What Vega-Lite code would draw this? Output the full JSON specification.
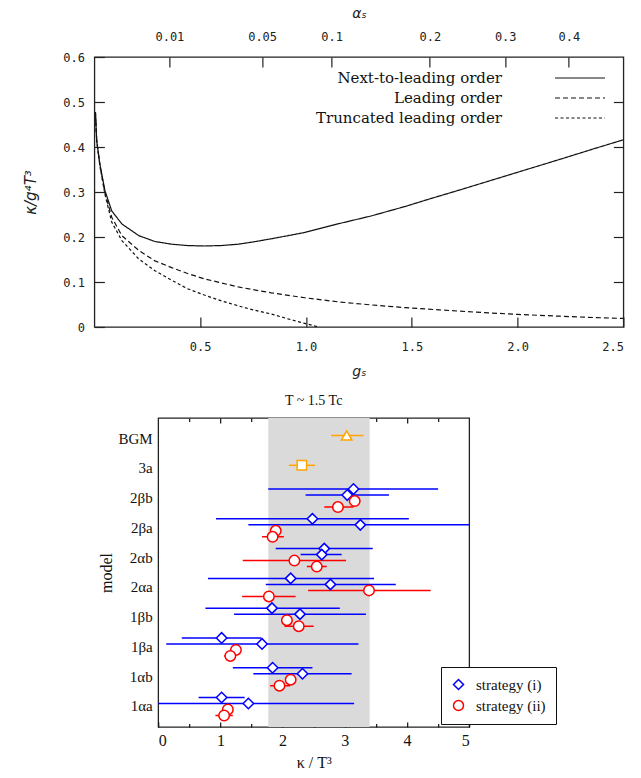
{
  "$schema": "https://vega.github.io/schema/vega-lite/v6.json",
  "background": "white",
  "padding": {"left": 23, "top": 5, "right": 5, "bottom": 5},
  "center": true,
  "spacing": 14,
  "config": {
    "view": {"stroke": "#222", "strokeWidth": 1.3},
    "axis": {"grid": false, "domain": false},
    "legend": {"labelFont": "Liberation Serif"}
  },
  "datasets": {
    "curves": [
      {"g": 0.005, "v": 0.477, "order": "Next-to-leading order"},
      {"g": 0.011, "v": 0.414, "order": "Next-to-leading order"},
      {"g": 0.026, "v": 0.362, "order": "Next-to-leading order"},
      {"g": 0.05, "v": 0.303, "order": "Next-to-leading order"},
      {"g": 0.082, "v": 0.258, "order": "Next-to-leading order"},
      {"g": 0.13, "v": 0.229, "order": "Next-to-leading order"},
      {"g": 0.21, "v": 0.203, "order": "Next-to-leading order"},
      {"g": 0.286, "v": 0.19, "order": "Next-to-leading order"},
      {"g": 0.365, "v": 0.184, "order": "Next-to-leading order"},
      {"g": 0.44, "v": 0.181, "order": "Next-to-leading order"},
      {"g": 0.52, "v": 0.18, "order": "Next-to-leading order"},
      {"g": 0.6, "v": 0.181, "order": "Next-to-leading order"},
      {"g": 0.68, "v": 0.184, "order": "Next-to-leading order"},
      {"g": 0.75, "v": 0.189, "order": "Next-to-leading order"},
      {"g": 0.836, "v": 0.196, "order": "Next-to-leading order"},
      {"g": 0.994, "v": 0.21, "order": "Next-to-leading order"},
      {"g": 1.15, "v": 0.229, "order": "Next-to-leading order"},
      {"g": 1.31, "v": 0.247, "order": "Next-to-leading order"},
      {"g": 1.47, "v": 0.268, "order": "Next-to-leading order"},
      {"g": 1.58, "v": 0.284, "order": "Next-to-leading order"},
      {"g": 1.73, "v": 0.305, "order": "Next-to-leading order"},
      {"g": 1.89, "v": 0.328, "order": "Next-to-leading order"},
      {"g": 2.05, "v": 0.351, "order": "Next-to-leading order"},
      {"g": 2.21, "v": 0.374, "order": "Next-to-leading order"},
      {"g": 2.36, "v": 0.396, "order": "Next-to-leading order"},
      {"g": 2.5, "v": 0.416, "order": "Next-to-leading order"},
      {"g": 0.005, "v": 0.477, "order": "Leading order"},
      {"g": 0.011, "v": 0.414, "order": "Leading order"},
      {"g": 0.026, "v": 0.36, "order": "Leading order"},
      {"g": 0.05, "v": 0.298, "order": "Leading order"},
      {"g": 0.082, "v": 0.244, "order": "Leading order"},
      {"g": 0.13, "v": 0.203, "order": "Leading order"},
      {"g": 0.21, "v": 0.17, "order": "Leading order"},
      {"g": 0.286, "v": 0.147, "order": "Leading order"},
      {"g": 0.365, "v": 0.132, "order": "Leading order"},
      {"g": 0.44, "v": 0.119, "order": "Leading order"},
      {"g": 0.52, "v": 0.107, "order": "Leading order"},
      {"g": 0.6, "v": 0.098, "order": "Leading order"},
      {"g": 0.68, "v": 0.089, "order": "Leading order"},
      {"g": 0.75, "v": 0.083, "order": "Leading order"},
      {"g": 0.836, "v": 0.076, "order": "Leading order"},
      {"g": 0.994, "v": 0.065, "order": "Leading order"},
      {"g": 1.15, "v": 0.056, "order": "Leading order"},
      {"g": 1.31, "v": 0.049, "order": "Leading order"},
      {"g": 1.47, "v": 0.043, "order": "Leading order"},
      {"g": 1.63, "v": 0.038, "order": "Leading order"},
      {"g": 1.8, "v": 0.033, "order": "Leading order"},
      {"g": 2.0, "v": 0.028, "order": "Leading order"},
      {"g": 2.2, "v": 0.024, "order": "Leading order"},
      {"g": 2.36, "v": 0.021, "order": "Leading order"},
      {"g": 2.5, "v": 0.019, "order": "Leading order"},
      {"g": 0.005, "v": 0.477, "order": "Truncated leading order"},
      {"g": 0.011, "v": 0.414, "order": "Truncated leading order"},
      {"g": 0.026, "v": 0.358, "order": "Truncated leading order"},
      {"g": 0.05, "v": 0.295, "order": "Truncated leading order"},
      {"g": 0.082, "v": 0.233, "order": "Truncated leading order"},
      {"g": 0.13, "v": 0.192, "order": "Truncated leading order"},
      {"g": 0.21, "v": 0.151, "order": "Truncated leading order"},
      {"g": 0.286, "v": 0.125, "order": "Truncated leading order"},
      {"g": 0.365, "v": 0.104, "order": "Truncated leading order"},
      {"g": 0.44, "v": 0.085, "order": "Truncated leading order"},
      {"g": 0.52, "v": 0.071, "order": "Truncated leading order"},
      {"g": 0.6, "v": 0.058, "order": "Truncated leading order"},
      {"g": 0.68, "v": 0.047, "order": "Truncated leading order"},
      {"g": 0.75, "v": 0.038, "order": "Truncated leading order"},
      {"g": 0.836, "v": 0.029, "order": "Truncated leading order"},
      {"g": 0.915, "v": 0.018, "order": "Truncated leading order"},
      {"g": 0.994, "v": 0.008, "order": "Truncated leading order"},
      {"g": 1.06, "v": 0.0, "order": "Truncated leading order"}
    ],
    "est": [
      {"model": "2βb", "strategy": "strategy (i)", "sub": "d1", "k": 3.14, "lo": 1.77, "hi": 4.5},
      {"model": "2βb", "strategy": "strategy (i)", "sub": "d2", "k": 3.04, "lo": 2.37, "hi": 3.71},
      {"model": "2βb", "strategy": "strategy (ii)", "sub": "c1", "k": 3.16, "lo": 3.1, "hi": 3.22},
      {"model": "2βb", "strategy": "strategy (ii)", "sub": "c2", "k": 2.89, "lo": 2.67, "hi": 3.14},
      {"model": "2βa", "strategy": "strategy (i)", "sub": "d1", "k": 2.48, "lo": 0.93, "hi": 4.03},
      {"model": "2βa", "strategy": "strategy (i)", "sub": "d2", "k": 3.25, "lo": 1.45, "hi": 5.0},
      {"model": "2βa", "strategy": "strategy (ii)", "sub": "c1", "k": 1.89, "lo": 1.84, "hi": 1.94},
      {"model": "2βa", "strategy": "strategy (ii)", "sub": "c2", "k": 1.84, "lo": 1.67, "hi": 2.02},
      {"model": "2αb", "strategy": "strategy (i)", "sub": "d1", "k": 2.67, "lo": 1.89, "hi": 3.45},
      {"model": "2αb", "strategy": "strategy (i)", "sub": "d2", "k": 2.63, "lo": 2.29, "hi": 2.95},
      {"model": "2αb", "strategy": "strategy (ii)", "sub": "c1", "k": 2.19, "lo": 1.36, "hi": 3.02},
      {"model": "2αb", "strategy": "strategy (ii)", "sub": "c2", "k": 2.55, "lo": 2.39, "hi": 2.71},
      {"model": "2αa", "strategy": "strategy (i)", "sub": "d1", "k": 2.13, "lo": 0.8, "hi": 3.47},
      {"model": "2αa", "strategy": "strategy (i)", "sub": "d2", "k": 2.77, "lo": 1.73, "hi": 3.82},
      {"model": "2αa", "strategy": "strategy (ii)", "sub": "c1", "k": 3.39, "lo": 2.41, "hi": 4.38},
      {"model": "2αa", "strategy": "strategy (ii)", "sub": "c2", "k": 1.78, "lo": 1.35, "hi": 2.21},
      {"model": "1βb", "strategy": "strategy (i)", "sub": "d1", "k": 1.83, "lo": 0.76, "hi": 2.92},
      {"model": "1βb", "strategy": "strategy (i)", "sub": "d2", "k": 2.28, "lo": 1.22, "hi": 3.34},
      {"model": "1βb", "strategy": "strategy (ii)", "sub": "c1", "k": 2.07, "lo": 2.02, "hi": 2.12},
      {"model": "1βb", "strategy": "strategy (ii)", "sub": "c2", "k": 2.26, "lo": 2.03, "hi": 2.5},
      {"model": "1βa", "strategy": "strategy (i)", "sub": "d1", "k": 1.02, "lo": 0.38, "hi": 1.66},
      {"model": "1βa", "strategy": "strategy (i)", "sub": "d2", "k": 1.67, "lo": 0.13, "hi": 3.22},
      {"model": "1βa", "strategy": "strategy (ii)", "sub": "c1", "k": 1.25, "lo": 1.2, "hi": 1.3},
      {"model": "1βa", "strategy": "strategy (ii)", "sub": "c2", "k": 1.16, "lo": 1.06, "hi": 1.24},
      {"model": "1αb", "strategy": "strategy (i)", "sub": "d1", "k": 1.84, "lo": 1.2, "hi": 2.48},
      {"model": "1αb", "strategy": "strategy (i)", "sub": "d2", "k": 2.32, "lo": 1.53, "hi": 3.11},
      {"model": "1αb", "strategy": "strategy (ii)", "sub": "c1", "k": 2.13, "lo": 2.08, "hi": 2.18},
      {"model": "1αb", "strategy": "strategy (ii)", "sub": "c2", "k": 1.95, "lo": 1.8, "hi": 2.12},
      {"model": "1αa", "strategy": "strategy (i)", "sub": "d1", "k": 1.02, "lo": 0.65, "hi": 1.39},
      {"model": "1αa", "strategy": "strategy (i)", "sub": "d2", "k": 1.45, "lo": 0.0, "hi": 3.15},
      {"model": "1αa", "strategy": "strategy (ii)", "sub": "c1", "k": 1.12, "lo": 1.07, "hi": 1.17},
      {"model": "1αa", "strategy": "strategy (ii)", "sub": "c2", "k": 1.06, "lo": 0.92, "hi": 1.2}
    ],
    "ref": [
      {"model": "BGM", "sub": "d2", "k": 3.03, "lo": 2.78, "hi": 3.3, "kind": "BGM"},
      {"model": "3a", "sub": "d2", "k": 2.31, "lo": 2.1, "hi": 2.52, "kind": "3a"}
    ],
    "band": [{"lo": 1.77, "hi": 3.4}]
  },
  "vconcat": [
    {
      "width": 529,
      "height": 270,
      "data": {"name": "curves"},
      "resolve": {"axis": {"x": "independent", "y": "independent"}},
      "layer": [
        {
          "mark": {"type": "line", "color": "#111", "strokeWidth": 1.2, "clip": true},
          "encoding": {
            "x": {
              "field": "g", "type": "quantitative",
              "scale": {"domain": [0, 2.5], "nice": false, "zero": false},
              "axis": {
                "orient": "bottom", "values": [0.5, 1, 1.5, 2, 2.5],
                "tickSize": -10, "tickColor": "#222", "tickWidth": 1.2,
                "labelPadding": 24, "labelFont": "DejaVu Sans Mono", "labelFontSize": 12, "labelColor": "#222",
                "title": "gₛ", "titleFont": "DejaVu Sans", "titleFontStyle": "italic", "titleFontWeight": "normal",
                "titleFontSize": 14, "titleColor": "#222", "titlePadding": 12
              }
            },
            "y": {
              "field": "v", "type": "quantitative",
              "scale": {"domain": [0, 0.6], "nice": false},
              "axis": {
                "orient": "left", "values": [0, 0.1, 0.2, 0.3, 0.4, 0.5, 0.6],
                "tickSize": -10, "tickColor": "#222", "tickWidth": 1.2,
                "labelPadding": 20, "labelFont": "DejaVu Sans Mono", "labelFontSize": 12, "labelColor": "#222",
                "labelExpr": "datum.value === 0 ? '0' : format(datum.value, '.1f')",
                "title": "κ/g⁴T³", "titleFont": "DejaVu Sans", "titleFontStyle": "italic", "titleFontWeight": "normal",
                "titleFontSize": 15, "titleColor": "#222", "titlePadding": 24
              }
            },
            "strokeDash": {
              "field": "order", "type": "nominal",
              "scale": {
                "domain": ["Next-to-leading order", "Leading order", "Truncated leading order"],
                "range": [[1, 0], [5, 3], [3, 2.5]]
              },
              "legend": {
                "orient": "none", "legendX": 477, "legendY": 12, "title": null, "padding": 0,
                "symbolType": "M-3,0H3", "symbolSize": 278, "symbolStrokeWidth": 1.2, "symbolStrokeColor": "#111",
                "symbolFillColor": "transparent",
                "labelAlign": "right", "labelOffset": -87, "labelFont": "DejaVu Serif", "labelFontSize": 15,
                "labelColor": "#111", "rowPadding": 3, "labelLimit": 400
              }
            }
          }
        },
        {
          "mark": {"type": "line", "opacity": 0},
          "encoding": {
            "x": {
              "field": "g", "type": "quantitative",
              "axis": {
                "orient": "top", "values": [0.35449, 0.79267, 1.121, 1.58533, 1.94163, 2.242],
                "labelExpr": "format(datum.value * datum.value / (4 * PI), '.2~f')",
                "tickSize": -10, "tickColor": "#222", "tickWidth": 1.2,
                "labelPadding": 24, "labelFont": "DejaVu Sans Mono", "labelFontSize": 12, "labelColor": "#222",
                "title": "αₛ", "titleFont": "DejaVu Sans", "titleFontStyle": "italic", "titleFontWeight": "normal",
                "titleFontSize": 14, "titleColor": "#222", "titlePadding": 10
              }
            },
            "y": {
              "field": "v", "type": "quantitative",
              "axis": {
                "orient": "right", "values": [0.1, 0.2, 0.3, 0.4, 0.5],
                "tickSize": -10, "tickColor": "#222", "tickWidth": 1.2, "labels": false, "title": null
              }
            }
          }
        }
      ]
    },
    {
      "width": 311,
      "height": 309,
      "title": {"text": "T ~ 1.5 Tc", "font": "Liberation Serif", "fontSize": 14, "fontWeight": "normal", "color": "#111", "offset": 9},
      "resolve": {"axis": {"x": "independent", "y": "independent"}},
      "layer": [
        {
          "data": {"name": "band"},
          "mark": {"type": "rect", "color": "#dadada"},
          "encoding": {
            "x": {
              "field": "lo", "type": "quantitative",
              "scale": {"domain": [0, 5], "nice": false, "zero": false},
              "axis": {
                "orient": "bottom", "values": [0, 1, 2, 3, 4, 5], "format": "d",
                "tickSize": -5, "tickColor": "#111", "tickWidth": 1.2,
                "labelPadding": 10, "labelFont": "Liberation Serif", "labelFontSize": 16, "labelColor": "#111",
                "title": "κ / T³", "titleFont": "Liberation Serif", "titleFontWeight": "normal",
                "titleFontSize": 16, "titleColor": "#111", "titlePadding": 6
              }
            },
            "x2": {"field": "hi"}
          }
        },
        {
          "data": {"name": "est"},
          "mark": {"type": "rule", "strokeWidth": 1.5, "clip": true},
          "encoding": {
            "x": {
              "field": "lo", "type": "quantitative",
              "axis": {
                "orient": "top", "values": [1, 2, 3, 4],
                "tickSize": -5, "tickColor": "#111", "tickWidth": 1.2, "labels": false, "title": null
              }
            },
            "x2": {"field": "hi"},
            "y": {
              "field": "model", "type": "nominal",
              "scale": {"domain": ["BGM", "3a", "2βb", "2βa", "2αb", "2αa", "1βb", "1βa", "1αb", "1αa"], "paddingInner": 0, "paddingOuter": 0.19},
              "axis": {"orient": "left", "ticks": false, "labelPadding": 6, "labelFont": "Liberation Serif", "labelFontSize": 15, "labelColor": "#111", "title": "model", "titleFont": "Liberation Serif", "titleFontWeight": "normal", "titleFontSize": 16, "titleColor": "#111", "titlePadding": 4}
            },
            "yOffset": {"field": "sub", "type": "nominal", "scale": {"domain": ["d1", "d2", "c1", "c2"], "paddingInner": 0, "paddingOuter": 0.48}},
            "color": {
              "field": "strategy", "type": "nominal",
              "scale": {"domain": ["strategy (i)", "strategy (ii)"], "range": ["#0000ff", "#ff0000"]},
              "legend": {"orient": "none", "legendX": 347, "legendY": 610, "title": null, "strokeColor": "#111", "fillColor": "white", "padding": 10, "labelFont": "Liberation Serif", "labelFontSize": 15, "labelColor": "#111", "rowPadding": 4, "symbolSize": 100, "symbolStrokeWidth": 1.5, "labelOffset": 10}
            }
          }
        },
        {
          "data": {"name": "ref"},
          "mark": {"type": "rule", "strokeWidth": 1.5, "color": "#ffa500"},
          "encoding": {
            "x": {
              "field": "lo", "type": "quantitative",
              "axis": {
                "orient": "top", "values": [0.5, 1.5, 2.5, 3.5, 4.5],
                "tickSize": -3.5, "tickColor": "#111", "tickWidth": 1.2, "labels": false, "title": null
              }
            },
            "x2": {"field": "hi"},
            "y": {
              "field": "model", "type": "nominal",
              "axis": {"orient": "right", "ticks": false, "labels": false, "title": "\u00a0", "titleFontSize": 16, "titlePadding": 75}
            },
            "yOffset": {"field": "sub", "type": "nominal"}
          }
        },
        {
          "data": {"name": "est"},
          "mark": {"type": "point", "filled": false, "fill": "white", "fillOpacity": 1, "strokeWidth": 1.5, "size": 110, "opacity": 1},
          "encoding": {
            "x": {
              "field": "k", "type": "quantitative",
              "axis": {
                "orient": "bottom", "values": [0.5, 1.5, 2.5, 3.5, 4.5],
                "tickSize": -3.5, "tickColor": "#111", "tickWidth": 1.2, "labels": false, "title": null
              }
            },
            "y": {"field": "model", "type": "nominal", "axis": null},
            "yOffset": {"field": "sub", "type": "nominal"},
            "shape": {
              "field": "strategy", "type": "nominal",
              "scale": {"domain": ["strategy (i)", "strategy (ii)"], "range": ["diamond", "circle"]},
              "legend": {"orient": "none", "legendX": 347, "legendY": 610, "title": null, "strokeColor": "#111", "fillColor": "white", "padding": 10, "labelFont": "Liberation Serif", "labelFontSize": 15, "labelColor": "#111", "rowPadding": 4, "symbolSize": 100, "symbolStrokeWidth": 1.5, "labelOffset": 10}
            },
            "color": {
              "field": "strategy", "type": "nominal",
              "scale": {"domain": ["strategy (i)", "strategy (ii)"], "range": ["#0000ff", "#ff0000"]},
              "legend": {"orient": "none", "legendX": 347, "legendY": 610, "title": null, "strokeColor": "#111", "fillColor": "white", "padding": 10, "labelFont": "Liberation Serif", "labelFontSize": 15, "labelColor": "#111", "rowPadding": 4, "symbolSize": 100, "symbolStrokeWidth": 1.5, "labelOffset": 10}
            }
          }
        },
        {
          "data": {"name": "ref"},
          "transform": [{"filter": "datum.kind === 'BGM'"}],
          "mark": {"type": "point", "shape": "triangle-up", "filled": false, "fill": "white", "fillOpacity": 1, "strokeWidth": 1.5, "size": 110, "color": "#ffa500", "opacity": 1},
          "encoding": {
            "x": {"field": "k", "type": "quantitative", "axis": null},
            "y": {"field": "model", "type": "nominal", "axis": null},
            "yOffset": {"field": "sub", "type": "nominal"}
          }
        },
        {
          "data": {"name": "ref"},
          "transform": [{"filter": "datum.kind === '3a'"}],
          "mark": {"type": "point", "shape": "square", "filled": false, "fill": "white", "fillOpacity": 1, "strokeWidth": 1.5, "size": 90, "color": "#ffa500", "opacity": 1},
          "encoding": {
            "x": {"field": "k", "type": "quantitative", "axis": null},
            "y": {"field": "model", "type": "nominal", "axis": null},
            "yOffset": {"field": "sub", "type": "nominal"}
          }
        }
      ]
    }
  ]
}
